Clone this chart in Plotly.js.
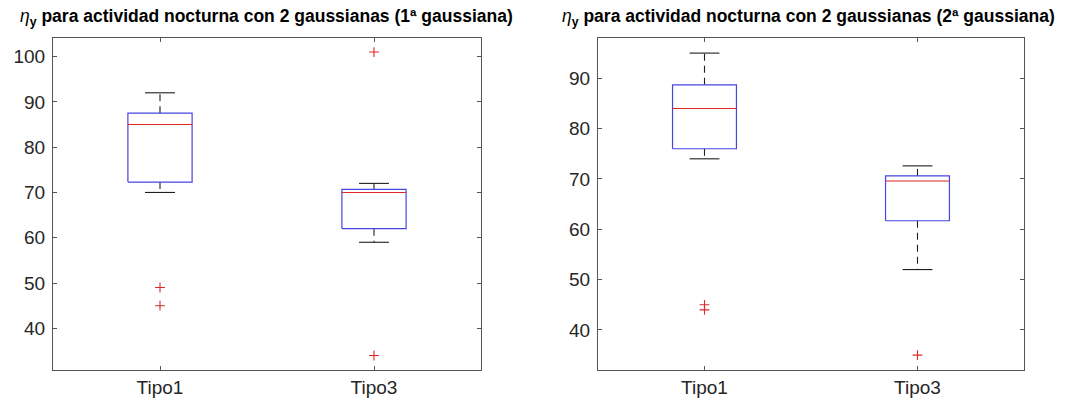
<!DOCTYPE html>
<html>
<head>
<meta charset="utf-8">
<script src="https://cdn.plot.ly/plotly-3.0.1.min.js"></script>
<style>html,body{margin:0;padding:0;background:#fff;}#chart{width:1073px;height:412px;}</style>
</head>
<body>
<div id="chart"></div>
<script>
// ---- data ----
var categories = ['Tipo1', 'Tipo3'];
var catPos = [1, 2];

// Panel 1: 1ª gaussiana
var p1Lower  = [70, 59];
var p1Q1     = [72.3, 62];
var p1Median = [85, 70];
var p1Q3     = [87.5, 70.7];
var p1Upper  = [92, 72];
var p1Outliers = [[49, 45], [101, 34]];

// Panel 2: 2ª gaussiana
var p2Lower  = [74, 52];
var p2Q1     = [76, 61.7];
var p2Median = [84, 69.6];
var p2Q3     = [88.7, 70.6];
var p2Upper  = [95, 72.6];
var p2Outliers = [[45, 44], [35]];

var yTicks1 = [40, 50, 60, 70, 80, 90, 100];
var yTicks2 = [40, 50, 60, 70, 80, 90];

var titles = [
  'para actividad nocturna con 2 gaussianas (1ª gaussiana)',
  'para actividad nocturna con 2 gaussianas (2ª gaussiana)'
];

// ---- styles ----
var BOXHALF = 0.15, CAPHALF = 0.07;
var BLUE = 'rgb(70,70,225)', RED = 'rgb(220,40,40)', BLACK = 'rgb(30,30,30)';
var AXCOL = '#555555', TXT = '#262626';
var FONT = 'Liberation Sans, Arial, sans-serif';

function buildTraces(lower, q1, med, q3, upper, outl, xa, ya) {
  var bx = [], by = [], mx = [], my = [], wx = [], wy = [], cx = [], cy = [], ox = [], oy = [];
  for (var i = 0; i < catPos.length; i++) {
    var c = catPos[i];
    bx.push(c - BOXHALF, c + BOXHALF, c + BOXHALF, c - BOXHALF, c - BOXHALF, null);
    by.push(q1[i], q1[i], q3[i], q3[i], q1[i], null);
    mx.push(c - BOXHALF, c + BOXHALF, null);
    my.push(med[i], med[i], null);
    wx.push(c, c, null, c, c, null);
    wy.push(q3[i], upper[i], null, q1[i], lower[i], null);
    cx.push(c - CAPHALF, c + CAPHALF, null, c - CAPHALF, c + CAPHALF, null);
    cy.push(upper[i], upper[i], null, lower[i], lower[i], null);
    for (var k = 0; k < outl[i].length; k++) { ox.push(c); oy.push(outl[i][k]); }
  }
  var common = {xaxis: xa, yaxis: ya, showlegend: false, hoverinfo: 'skip', type: 'scatter'};
  return [
    Object.assign({x: wx, y: wy, mode: 'lines', line: {color: BLACK, width: 1.1, dash: '7px,5px'}}, common),
    Object.assign({x: cx, y: cy, mode: 'lines', line: {color: BLACK, width: 1.1}}, common),
    Object.assign({x: bx, y: by, mode: 'lines', line: {color: BLUE, width: 1.2}}, common),
    Object.assign({x: mx, y: my, mode: 'lines', line: {color: RED, width: 1.1}}, common),
    Object.assign({x: ox, y: oy, mode: 'markers', marker: {symbol: 'cross-thin', size: 7, line: {color: RED, width: 1.1}, color: RED}}, common)
  ];
}

var data = buildTraces(p1Lower, p1Q1, p1Median, p1Q3, p1Upper, p1Outliers, 'x', 'y')
  .concat(buildTraces(p2Lower, p2Q1, p2Median, p2Q3, p2Upper, p2Outliers, 'x2', 'y2'));

function xAxis(domain, anchor) {
  return {domain: domain, anchor: anchor, range: [0.5, 2.5], tickvals: catPos, ticktext: categories,
    showgrid: false, zeroline: false, showline: true, mirror: 'ticks', linecolor: AXCOL, linewidth: 1,
    ticks: 'inside', ticklen: 4, tickcolor: AXCOL, tickfont: {family: FONT, size: 19, color: TXT}, fixedrange: true};
}
function yAxis(range, tv, anchor) {
  return {domain: [1 - 370/412, 1 - 38/412], anchor: anchor, range: range, tickvals: tv,
    showgrid: false, zeroline: false, showline: true, mirror: 'ticks', linecolor: AXCOL, linewidth: 1,
    ticks: 'inside', ticklen: 4, tickcolor: AXCOL, ticklabelstandoff: 3,
    tickfont: {family: FONT, size: 19, color: TXT}, fixedrange: true};
}

function titleText(t) {
  return '<i>η</i><sub><b>y</b></sub> <b>' + t + '</b>';
}

var layout = {
  width: 1073, height: 412,
  margin: {l: 0, r: 0, t: 0, b: 0},
  paper_bgcolor: '#ffffff', plot_bgcolor: '#ffffff',
  xaxis: xAxis([53/1073, 481/1073], 'y'),
  yaxis: yAxis([30.8, 104.1], yTicks1, 'x'),
  xaxis2: xAxis([598/1073, 1024/1073], 'y2'),
  yaxis2: yAxis([32.05, 98], yTicks2, 'x2'),
  annotations: [
    {text: titleText(titles[0]), xref: 'paper', yref: 'paper', x: 266/1073, y: 1 - 18/412, xanchor: 'center', yanchor: 'middle', showarrow: false, font: {family: FONT, size: 17.5, color: '#000'}},
    {text: titleText(titles[1]), xref: 'paper', yref: 'paper', x: 808/1073, y: 1 - 18/412, xanchor: 'center', yanchor: 'middle', showarrow: false, font: {family: FONT, size: 17.5, color: '#000'}}
  ],
  showlegend: false
};

Plotly.newPlot('chart', data, layout, {displayModeBar: false, staticPlot: true});
</script>
</body>
</html>
